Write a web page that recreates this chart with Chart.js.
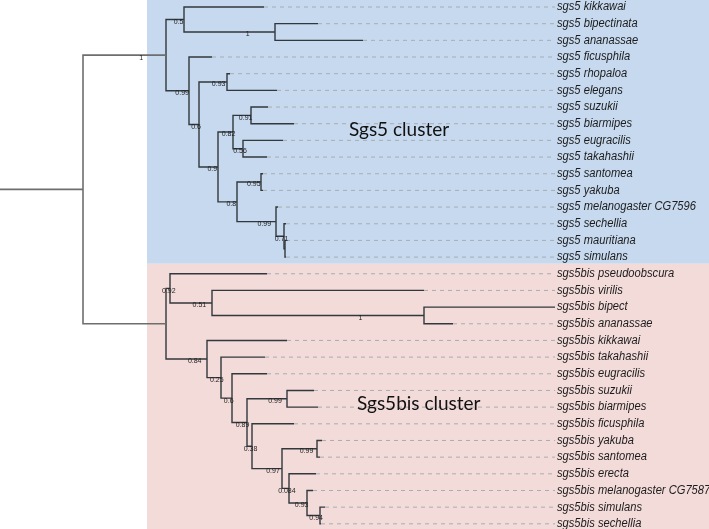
<!DOCTYPE html>
<html>
<head>
<meta charset="utf-8">
<title>Sgs5 / Sgs5bis tree</title>
<script src="https://cdn.jsdelivr.net/npm/chart.js@4.4.1/dist/chart.umd.min.js"></script>
<style>
  html, body { margin: 0; padding: 0; background: #fff; }
  #wrap { width: 709px; height: 529px; }
</style>
</head>
<body>
<div id="wrap"><canvas id="treeChart" width="709" height="529"></canvas></div>
<script>
// Leaves, top to bottom (y = row index)
const leafNames = [
  "sgs5 kikkawai", "sgs5 bipectinata", "sgs5 ananassae", "sgs5 ficusphila",
  "sgs5 rhopaloa", "sgs5 elegans", "sgs5 suzukii", "sgs5 biarmipes",
  "sgs5 eugracilis", "sgs5 takahashii", "sgs5 santomea", "sgs5 yakuba",
  "sgs5 melanogaster CG7596", "sgs5 sechellia", "sgs5 mauritiana", "sgs5 simulans",
  "sgs5bis pseudoobscura", "sgs5bis virilis", "sgs5bis bipect", "sgs5bis ananassae",
  "sgs5bis kikkawai", "sgs5bis takahashii", "sgs5bis eugracilis", "sgs5bis suzukii",
  "sgs5bis biarmipes", "sgs5bis ficusphila", "sgs5bis yakuba", "sgs5bis santomea",
  "sgs5bis erecta", "sgs5bis melanogaster CG7587", "sgs5bis simulans", "sgs5bis sechellia",
];

// distance from root to each tip (arbitrary tree units)
const tipDepths = [
  181, 235, 280, 129, 147, 194, 185, 211, 200, 184, 180, 180, 195, 203, 203, 203,
  184, 341, 472, 370, 204, 182, 184, 231, 235, 211, 239, 237, 233, 230, 242, 238,
];

// Internal nodes: children are leaf indices (numbers) or node ids (strings)
const nodeIds = [
  "root", "A", "B", "D", "C", "E", "F", "G", "H", "I", "J", "K", "L", "M", "N", "O",
  "P", "Q", "S", "T", "R", "U", "V", "W", "X", "Y", "Z", "AA", "AB", "AC", "AD",
];
const nodeKids = [
  ["A", "P"], ["B", "C"], [0, "D"], [1, 2], [3, "E"], ["F", "G"], [4, 5], ["H", "K"],
  ["I", "J"], [6, 7], [8, 9], ["L", "M"], [10, 11], [12, "N"], [13, "O"], [14, 15],
  ["Q", "R"], [16, "S"], [17, "T"], [18, 19], [20, "U"], [21, "V"], [22, "W"], ["X", "Y"],
  [23, 24], [25, "Z"], ["AA", "AB"], [26, 27], [28, "AC"], [29, "AD"], [30, 31],
];
const nodeDepths = [
  0, 83, 101, 192, 106, 116, 144, 135, 150, 168, 160, 154, 178, 193, 201, 202,
  83, 87, 129, 341, 124, 138, 149, 164, 204, 169, 199, 234, 206, 224, 237,
];
const nodeSupport = [
  "", "1", "0.5", "1", "0.99", "0.6", "0.93", "0.9", "0.82", "0.91", "0.56", "0.8", "0.95", "0.99", "0.71", "",
  "", "0.92", "0.51", "1", "0.84", "0.25", "0.6", "0.89", "0.99", "0.38", "0.97", "0.99", "0.084", "0.93", "0.94",
];

const clusterNames = ["Sgs5 cluster", "Sgs5bis cluster"];

// layout constants
const labelDepth = 474;      // where tip names start
const shadeDepth = 64;       // left edge of the cluster boxes
const splitRow = 15.4;       // boundary between the two clusters
const clusterPos = [[266, 7.4], [274, 23.8]];

const nodeY = {};
function depthOf(ref) {
  return typeof ref === "number" ? tipDepths[ref] : nodeDepths[nodeIds.indexOf(ref)];
}
function yOf(ref) {
  if (typeof ref === "number") return ref;
  if (nodeY[ref] === undefined) {
    const kids = nodeKids[nodeIds.indexOf(ref)];
    nodeY[ref] = (yOf(kids[0]) + yOf(kids[kids.length - 1])) / 2;
  }
  return nodeY[ref];
}

const parentOf = {};
nodeKids.forEach((kids, i) => kids.forEach((k) => (parentOf[k] = nodeIds[i])));

const datasets = [];

// dashed guides from tips to the names
leafNames.forEach((name, i) => {
  if (tipDepths[i] < labelDepth - 3) {
    datasets.push({
      data: [{ x: tipDepths[i], y: i }, { x: labelDepth - 2, y: i }],
      borderColor: "#a9adb2",
      borderWidth: 1,
      borderDash: [4, 4],
    });
  }
});

// branches: one bracket per node
nodeIds.forEach((id, i) => {
  const kids = nodeKids[i];
  const d = nodeDepths[i];
  const a = kids[0];
  const b = kids[kids.length - 1];
  const isRoot = id === "root";
  datasets.push({
    data: [
      { x: depthOf(a), y: yOf(a) },
      { x: d, y: yOf(a) },
      { x: d, y: yOf(b) },
      { x: depthOf(b), y: yOf(b) },
    ],
    borderColor: isRoot ? "#6e6e6e" : "#33383d",
    borderWidth: isRoot ? 1.6 : 1.4,
  });
});

// stem to the left of the root
datasets.push({
  data: [{ x: -83, y: yOf("root") }, { x: 0, y: yOf("root") }],
  borderColor: "#6e6e6e",
  borderWidth: 1.6,
});

const treePlugin = {
  id: "treePlugin",
  beforeDraw(chart) {
    const { ctx } = chart;
    ctx.save();
    ctx.fillStyle = "#ffffff";
    ctx.fillRect(0, 0, chart.width, chart.height);
    const x = chart.scales.x;
    const y = chart.scales.y;
    const left = x.getPixelForValue(shadeDepth);
    const mid = y.getPixelForValue(splitRow);
    ctx.fillStyle = "#c6d9ee";
    ctx.fillRect(left, 0, chart.width - left, mid);
    ctx.fillStyle = "#f2dbd9";
    ctx.fillRect(left, mid, chart.width - left, chart.height - mid);
    ctx.restore();
  },
  afterDatasetsDraw(chart) {
    const { ctx } = chart;
    const x = chart.scales.x;
    const y = chart.scales.y;
    ctx.save();

    // tip names, slightly condensed like the original
    ctx.font = "italic 12px 'Liberation Sans', Arial, sans-serif";
    ctx.fillStyle = "#1c1c1c";
    ctx.textAlign = "left";
    ctx.textBaseline = "middle";
    const squeeze = 0.93;
    leafNames.forEach((name, i) => {
      const lx = x.getPixelForValue(labelDepth);
      ctx.save();
      ctx.translate(lx, y.getPixelForValue(i));
      ctx.scale(squeeze, 1);
      ctx.fillText(name, 0, 0);
      ctx.restore();
    });

    // support values, 70% along the branch leading to the node
    ctx.font = "7px 'Liberation Sans', Arial, sans-serif";
    ctx.fillStyle = "#1e1e1e";
    ctx.textAlign = "center";
    nodeIds.forEach((id, i) => {
      if (!nodeSupport[i]) return;
      const pd = depthOf(parentOf[id]);
      const px = x.getPixelForValue(pd + 0.7 * (nodeDepths[i] - pd));
      ctx.fillText(nodeSupport[i], px, y.getPixelForValue(yOf(id)) + 2.5);
    });

    // cluster names
    ctx.font = "19px Lato, 'Open Sans', sans-serif";
    ctx.fillStyle = "#111";
    ctx.textAlign = "left";
    clusterNames.forEach((name, i) => {
      ctx.fillText(name, x.getPixelForValue(clusterPos[i][0]), y.getPixelForValue(clusterPos[i][1]));
    });
    ctx.restore();
  },
};

new Chart(document.getElementById("treeChart"), {
  type: "scatter",
  data: { datasets: datasets },
  options: {
    responsive: false,
    animation: false,
    devicePixelRatio: 1,
    layout: { padding: 0 },
    showLine: true,
    elements: {
      point: { radius: 0, hoverRadius: 0 },
      line: { tension: 0, fill: false },
    },
    plugins: {
      legend: { display: false },
      tooltip: { enabled: false },
    },
    scales: {
      x: { type: "linear", min: -83, max: 626, display: false },
      y: { type: "linear", min: -0.42, max: 31.31, reverse: true, display: false },
    },
  },
  plugins: [treePlugin],
});
</script>
</body>
</html>
